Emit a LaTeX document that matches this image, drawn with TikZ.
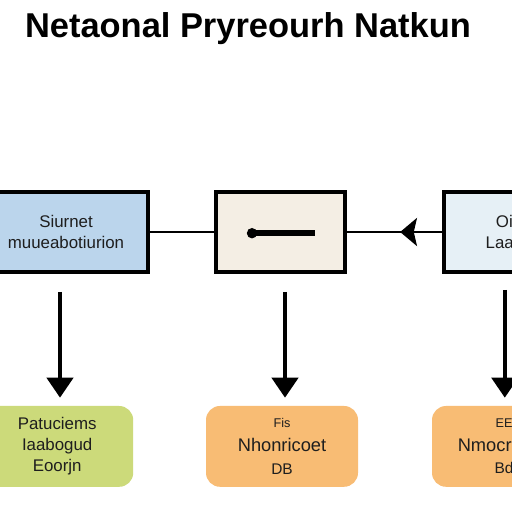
\documentclass[tikz,border=0pt]{standalone}
\usepackage{fontspec}
\setmainfont{Liberation Sans}
\usetikzlibrary{arrows.meta,decorations.markings}
\definecolor{srcblue}{HTML}{BBD5EC}
\definecolor{midcream}{HTML}{F4EEE4}
\definecolor{outblue}{HTML}{E6F0F6}
\definecolor{resgreen}{HTML}{CCDA7A}
\definecolor{resorange}{HTML}{F8BC74}
\definecolor{txt}{HTML}{1E1E1E}

\begin{document}
\begin{tikzpicture}[
  blk/.style={draw,line width=2.5pt,minimum height=2cm,inner sep=2pt,align=center,text=txt,font=\fontsize{12}{15}\selectfont},
  res/.style={rounded corners=0.35cm,minimum width=3.8cm,minimum height=2.02cm,inner sep=2pt,align=center,text=txt,font=\fontsize{12}{15}\selectfont},
  arr/.style={line width=3pt,-{Triangle[width=0.65cm,length=0.5cm]},shorten >=0.2cm}]
 \useasboundingbox (0,0) rectangle (12.8,12.8);
 \fill[white] (0,0) rectangle (12.8,12.8);
 \node[font=\bfseries\fontsize{24.5}{28}\selectfont] (title) at (6.2,12.08) {Netaonal Pryreourh Natkun};

 \node[blk,fill=srcblue,minimum width=4.1cm] (src) at (1.65,7.0) {Siurnet\\muueabotiurion};
 \node[blk,fill=midcream,minimum width=3.22cm] (mid) at (7.01,7.0) {};
 \node[blk,fill=outblue,minimum width=3.7cm] (out) at (12.95,7.0) {Oilnet\\Laaetion};
 \draw[line width=4pt] (6.3,6.97) -- (7.87,6.97);
 \fill (6.3,6.97) circle (0.13);

 \draw[line width=2pt] (src) -- (mid);
 \draw[line width=2pt,postaction={decorate},decoration={markings,
   mark=at position 0.44 with {\arrow{Stealth[width=0.7cm,length=0.42cm,inset=0.08cm]}}}] (out) -- (mid);

 \node[res,fill=resgreen] (res1) at (1.43,1.64) {Patuciems\\Iaabogud\\Eoorjn};
 \node[res,fill=resorange] (res2) at (7.05,1.64)
   {{\fontsize{9}{12}\selectfont Fis}\\[2pt]{\fontsize{13}{15}\selectfont Nhonricoet}\\[1pt]{\fontsize{11}{13}\selectfont DB}};
 \node[res,fill=resorange,minimum width=3.6cm] (res3) at (12.6,1.64)
   {{\fontsize{9}{12}\selectfont EE}\\[2pt]{\fontsize{13}{15}\selectfont Nmocricoet}\\[1pt]{\fontsize{11}{13}\selectfont Bd}};

 \coordinate (d1) at (1.5,5.5);
 \coordinate (d2) at (7.125,5.5);
 \coordinate (d3) at (12.62,5.55);
 \draw[arr] (d1) -- (d1 |- res1.north);
 \draw[arr] (d2) -- (d2 |- res2.north);
 \draw[arr] (d3) -- (d3 |- res3.north);
\end{tikzpicture}
\end{document}
